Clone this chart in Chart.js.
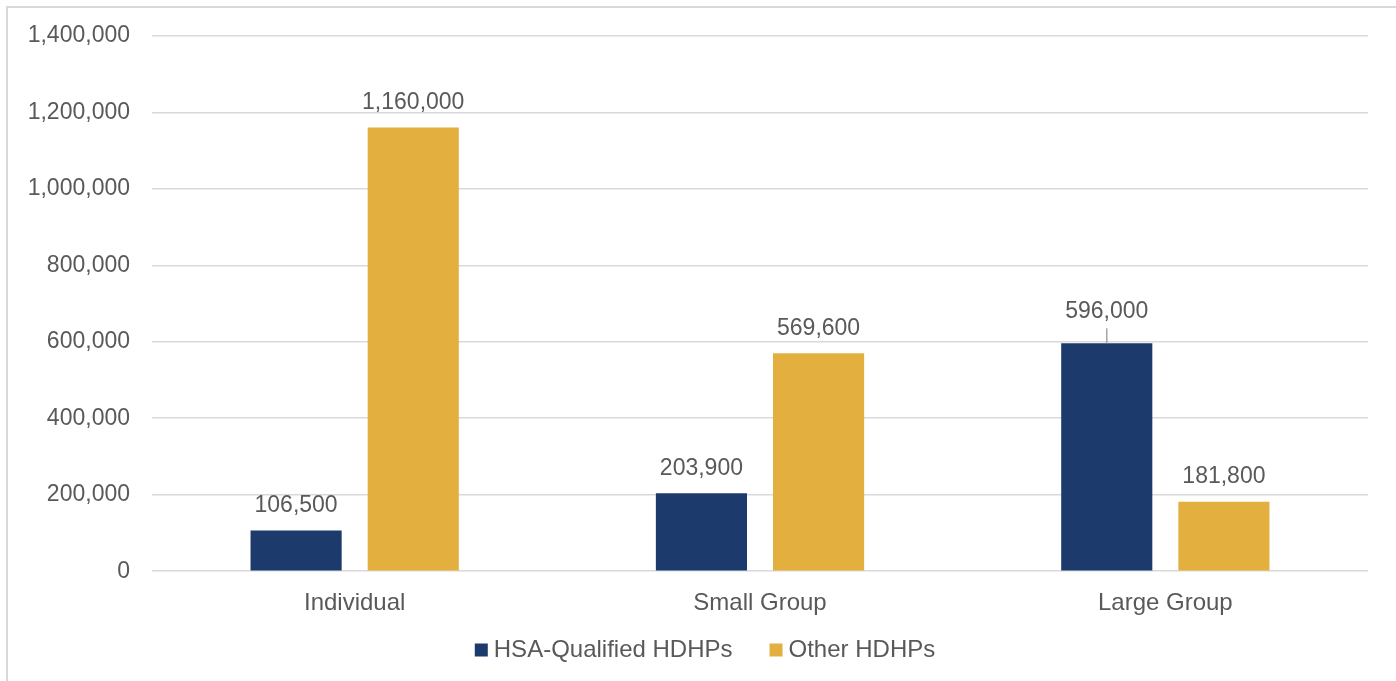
<!DOCTYPE html>
<html lang="en">
<head>
  <meta charset="UTF-8" />
  <title>HDHP Enrollment by Market</title>
  <script src="https://cdn.jsdelivr.net/npm/chart.js"></script>
  <style>
    html, body {
      margin: 0;
      padding: 0;
      background: #ffffff;
      overflow: hidden;
    }
    .frame {
      position: absolute;
      left: 6px;
      top: 6px;
      width: 1500px;
      height: 1000px;
      border: 2px solid #d9d9d9;
    }
    .wrap {
      position: absolute;
      left: 0;
      top: 0;
      width: 1396px;
      height: 681px;
    }
  </style>
</head>
<body>
  <div class="frame"></div>
  <div class="wrap"><canvas id="chart"></canvas></div>

  <script>
    const categories = ['Individual', 'Small Group', 'Large Group'];
    const hsaQualified = [106500, 203900, 596000];
    const otherHdhps = [1160000, 569600, 181800];
    const seriesNames = ['HSA-Qualified HDHPs', 'Other HDHPs'];

    const textColor = '#595959';
    const fontFamily = "'Liberation Sans', Arial, sans-serif";
    const numSize = 23;
    const textSize = 24;

    // labels above bars; the one listed in "leader" gets lifted with a small line
    const barLabels = {
      id: 'barLabels',
      afterDatasetsDraw(chart, args, opts) {
        const ctx = chart.ctx;
        ctx.save();
        ctx.font = numSize + 'px ' + fontFamily;
        ctx.fillStyle = textColor;
        ctx.textAlign = 'center';
        ctx.textBaseline = 'middle';
        chart.data.datasets.forEach((ds, i) => {
          chart.getDatasetMeta(i).data.forEach((bar, j) => {
            const lifted = opts.leader.some(p => p[0] === i && p[1] === j);
            const off = lifted ? 32 : 25;
            if (lifted) {
              ctx.strokeStyle = '#a6a6a6';
              ctx.lineWidth = 1.5;
              ctx.beginPath();
              ctx.moveTo(bar.x, bar.y - 15);
              ctx.lineTo(bar.x, bar.y);
              ctx.stroke();
            }
            ctx.fillText(ds.data[j].toLocaleString('en-US'), bar.x, bar.y - off);
          });
        });
        ctx.restore();
      }
    };

    // simple legend drawn at the bottom, Excel style (small square, tight text)
    const bottomLegend = {
      id: 'bottomLegend',
      afterDraw(chart) {
        const ctx = chart.ctx;
        const box = 13, textGap = 6, itemGap = 37;
        ctx.save();
        ctx.font = textSize + 'px ' + fontFamily;
        ctx.textBaseline = 'middle';
        const widths = chart.data.datasets.map(ds => box + textGap + ctx.measureText(ds.label).width);
        const total = widths.reduce((a, b) => a + b, 0) + itemGap * (widths.length - 1);
        let x = chart.width / 2 + 7 - total / 2;
        const y = chart.height - 31;
        chart.data.datasets.forEach((ds, i) => {
          ctx.fillStyle = ds.backgroundColor;
          ctx.fillRect(x, y - box / 2, box, box);
          ctx.fillStyle = textColor;
          ctx.textAlign = 'left';
          ctx.fillText(ds.label, x + box + textGap, y);
          x += widths[i] + itemGap;
        });
        ctx.restore();
      }
    };

    new Chart(document.getElementById('chart'), {
      type: 'bar',
      data: {
        labels: categories,
        datasets: [
          { label: seriesNames[0], data: hsaQualified, backgroundColor: '#1d3a6d' },
          { label: seriesNames[1], data: otherHdhps, backgroundColor: '#e3b040' }
        ]
      },
      options: {
        responsive: true,
        maintainAspectRatio: false,
        animation: false,
        categoryPercentage: 0.578,
        barPercentage: 0.778,
        layout: { padding: { left: 0, right: 28, top: 35, bottom: 53 } },
        scales: {
          x: {
            grid: { display: false },
            border: { display: false },
            ticks: { color: textColor, font: { family: fontFamily, size: textSize }, padding: 10 }
          },
          y: {
            min: 0,
            max: 1400000,
            ticks: {
              stepSize: 200000,
              color: textColor,
              padding: 22,
              font: { family: fontFamily, size: numSize },
              callback: v => v.toLocaleString('en-US')
            },
            grid: { color: '#d9d9d9', lineWidth: 1.5, drawTicks: false },
            border: { display: false },
            afterFit(scale) { scale.width = 152; }
          }
        },
        plugins: {
          legend: { display: false },
          tooltip: { enabled: false },
          barLabels: { leader: [[0, 2]] }
        }
      },
      plugins: [barLabels, bottomLegend]
    });
  </script>
</body>
</html>
